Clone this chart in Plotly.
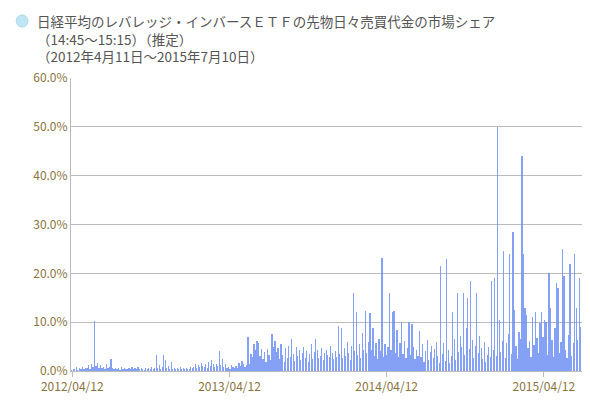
import plotly.graph_objects as go
import pandas as pd

values = [
0.3,0.5,0.4,0.8,0.3,0.6,0.4,0.9,0.5,0.7,
0.6,1.2,0.5,1.5,0.8,10.2,1.0,1.6,0.7,1.2,
0.6,0.9,0.5,1.5,0.7,0.8,2.5,0.6,0.4,0.7,
0.5,0.6,0.3,0.8,0.4,0.6,0.5,0.4,0.7,0.5,
0.8,0.4,0.6,0.5,0.9,0.4,0.6,0.5,0.3,0.7,
0.5,0.6,0.4,0.8,0.5,0.7,3.2,0.6,1.2,0.5,
0.8,3.2,2.3,0.6,1.0,0.4,1.8,0.5,0.7,0.4,
0.6,0.5,0.8,0.4,0.7,0.5,0.6,0.4,0.5,0.8,
0.6,0.9,1.5,0.7,1.2,0.8,1.6,1.1,0.9,1.4,
0.6,1.8,1.0,2.2,1.4,0.8,1.5,1.0,4.0,1.2,
2.5,0.8,1.4,0.6,0.9,0.5,1.2,0.8,0.6,1.0,
0.7,1.6,1.1,2.0,1.4,0.9,1.2,7.0,1.5,3.5,
2.8,5.5,4.2,6.2,5.8,3.0,4.6,2.5,3.8,1.8,
4.5,3.2,2.2,7.5,5.0,6.2,3.8,4.8,2.5,5.5,
3.2,1.8,4.8,2.6,5.2,2.8,6.5,3.4,2.0,5.0,
3.0,4.2,2.2,3.6,5.0,2.6,4.0,1.8,3.4,5.5,
2.4,3.8,6.5,4.2,2.6,3.0,4.8,2.2,3.6,4.4,
3.2,2.8,5.2,3.6,2.4,4.0,2.8,9.3,3.4,8.8,
2.6,4.8,3.0,6.0,3.6,2.2,5.2,16.0,4.0,12.0,
3.2,5.5,2.6,7.8,4.2,12.2,3.6,6.0,11.8,4.4,
8.8,3.0,5.8,2.4,6.6,4.0,23.2,2.8,5.6,3.2,
5.0,16.0,4.4,12.0,12.2,3.6,8.4,2.8,5.8,10.0,
3.4,6.2,2.6,4.8,10.0,3.2,9.6,5.0,2.4,4.4,
3.0,8.2,2.8,5.6,1.8,4.0,6.4,2.2,3.8,5.2,
2.6,4.6,6.0,3.0,1.6,21.5,3.4,5.8,2.0,23.0,
4.2,1.6,3.0,12.0,6.6,2.2,16.0,3.8,7.2,5.0,
16.0,3.2,8.8,15.0,4.6,18.5,6.4,2.6,5.2,16.0,
3.6,7.2,4.8,2.4,6.0,1.8,3.2,5.0,2.8,18.5,
4.4,19.0,3.0,50.0,10.5,3.8,6.2,24.5,2.6,5.8,
7.6,24.0,3.4,28.5,12.5,5.2,2.4,8.0,6.6,44.0,
24.0,13.0,11.5,4.8,6.2,2.8,11.0,5.4,12.0,6.8,
3.6,9.8,12.0,7.0,10.4,10.0,3.2,20.0,13.0,6.4,
2.8,8.8,18.0,17.0,3.6,6.0,25.0,19.5,4.2,2.6,
7.4,22.0,3.0,5.8,24.0,13.0,6.4,19.0,9.0,19.0,
]
start_date = "2012-04-11"
end_date = "2015-07-10"
tick_dates = ["2012-04-12", "2013-04-12", "2014-04-12", "2015-04-12"]
tick_labels = ["2012/04/12", "2013/04/12", "2014/04/12", "2015/04/12"]
y_ticks = [0, 10, 20, 30, 40, 50, 60]
title_lines = ["日経平均のレバレッジ・インバースＥＴＦの先物日々売買代金の市場シェア",
               "（14:45～15:15）（推定）",
               "（2012年4月11日～2015年7月10日）"]

dates = pd.date_range(start_date, end_date, periods=len(values))

fig = go.Figure(go.Bar(
    x=dates, y=values,
    width=2.8 * 86400000,
    marker=dict(color="rgba(110,145,245,0.85)", line=dict(width=0)),
))

brown = "#8a7440"
fig.update_layout(
    width=590, height=400,
    margin=dict(l=63, r=15, t=70, b=37, autoexpand=False),
    paper_bgcolor="white", plot_bgcolor="white",
    showlegend=False, bargap=0,
    font=dict(family="Noto Sans CJK JP, sans-serif"),
    xaxis=dict(
        type="date", automargin=False,
        range=["2012-04-09", "2015-07-12"],
        tickvals=tick_dates, ticktext=tick_labels,
        tickfont=dict(size=12, color=brown),
        showgrid=False, showline=True, linecolor="#bbbbbb",
        ticks="outside", ticklen=5, tickcolor="#bbbbbb",
    ),
    yaxis=dict(
        range=[0, 60], tickvals=y_ticks, automargin=False,
        ticktext=[f"{v:.1f}%" for v in y_ticks],
        tickfont=dict(size=12, color=brown),
        showgrid=True, gridcolor="#bbbbbb", gridwidth=1,
        showline=True, linecolor="#bbbbbb", zeroline=False,
    ),
    annotations=[
        dict(xref="paper", yref="paper", x=-0.07, y=1.235, xanchor="left", yanchor="top",
             text="<br>".join(title_lines),
             align="left", showarrow=False,
             font=dict(size=13.5, color="#555555")),
    ],
    shapes=[
        dict(type="circle", xref="paper", yref="paper",
             x0=-0.107, x1=-0.084, y0=1.174, y1=1.215,
             fillcolor="#bfe6f5", line=dict(color="#a8d8ee", width=1)),
    ],
)

fig.write_html("out.html")
